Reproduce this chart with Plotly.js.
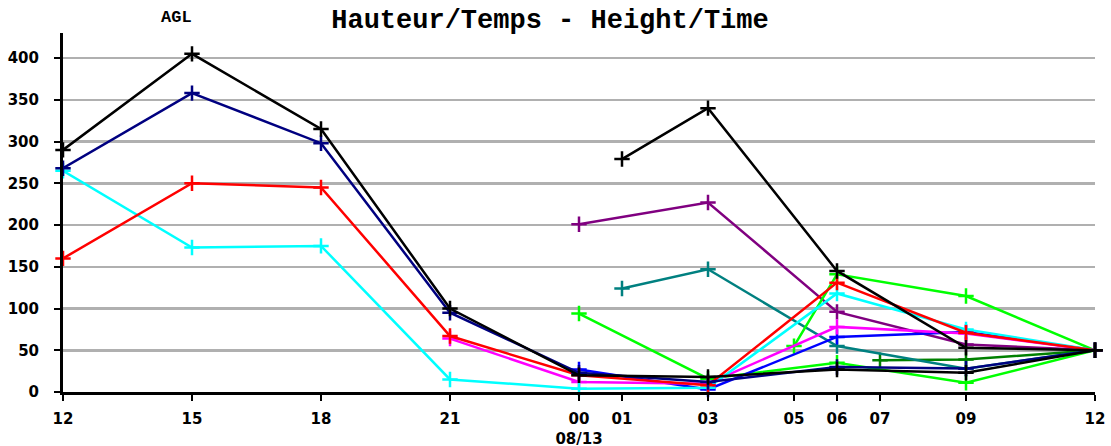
<!DOCTYPE html>
<html>
<head>
<meta charset="utf-8">
<script src="https://cdn.plot.ly/plotly-3.0.1.min.js"></script>
<style>
html,body{margin:0;padding:0;background:#fff;}
#chart{width:1111px;height:446px;}
</style>
</head>
<body>
<div id="chart"></div>
<script>
// hours counted from 12:00 on the first day (12 = 00h on 08/13)
const tickHours = [0, 3, 6, 9, 12, 13, 15, 17, 18, 19, 21, 24];
const tickLabels = ['12', '15', '18', '21', '00<br>08/13', '01', '03', '05', '06', '07', '09', '12'];

const hoursFull = [0, 3, 6, 9, 12, 15, 18, 21, 24];
const blackA = [290, 405, 315, 100, 20, 18, 27, 23, 50];
const navyA  = [268, 358, 298, 95, 23, 12, 30, 28, 50];
const redA   = [160, 250, 245, 67, 20, 8, 131, 71, 50];
const cyanA  = [265, 173, 175, 15, 4, 5, 118, 75, 50];

const hoursMagenta = [9, 12, 15, 18, 21, 24];
const magentaA = [64, 12, 10, 78, 70, 50];

const hoursFrom00 = [12, 15, 18, 21, 24];
const blueA   = [27, 3, 66, 72, 50];
const purpleA = [201, 227, 96, 57, 50];
const limeA   = [94, 16, 35, 11, 50];

const hoursFrom01 = [13, 15, 18, 21, 24];
const blackB = [279, 340, 145, 53, 50];
const tealA  = [124, 147, 55, 28, 50];

const hoursFrom05 = [17, 18, 21, 24];
const limeB = [55, 141, 115, 50];

const hoursFrom07 = [19, 21, 24];
const greenA = [38, 39, 50];

function series(x, y, color) {
  return {
    x: x, y: y, type: 'scatter', mode: 'lines+markers',
    line: {color: color, width: 2.5},
    marker: {symbol: 'cross-thin', size: 11, color: color, line: {width: 2.5, color: color}},
    cliponaxis: false, hoverinfo: 'x+y', showlegend: false
  };
}

const data = [
  series(hoursFrom07, greenA, '#008000'),
  series(hoursFrom01, tealA, '#008080'),
  series(hoursFrom00, purpleA, '#800080'),
  series(hoursFrom05, limeB, '#00ff00'),
  series(hoursFrom00, limeA, '#00ff00'),
  series(hoursFrom00, blueA, '#0000ff'),
  series(hoursMagenta, magentaA, '#ff00ff'),
  series(hoursFull, cyanA, '#00ffff'),
  series(hoursFull, redA, '#ff0000'),
  series(hoursFull, navyA, '#000080'),
  series(hoursFull, blackA, '#000000'),
  series(hoursFrom01, blackB, '#000000')
];

const tickFont = {family: 'DejaVu Sans, Verdana, sans-serif', size: 15, color: '#000', weight: 'bold'};

const layout = {
  width: 1111, height: 446,
  margin: {l: 63, r: 16, t: 33, b: 54, pad: 0},
  paper_bgcolor: '#fff', plot_bgcolor: '#fff',
  title: {
    text: 'Hauteur/Temps - Height/Time',
    font: {family: 'Liberation Mono, Courier New, monospace', size: 27, color: '#000', weight: 'bold'},
    x: 550 / 1111, xref: 'container', xanchor: 'center',
    y: 1 - 19 / 446, yref: 'container', yanchor: 'middle'
  },
  xaxis: {
    range: [0, 24], tickmode: 'array', tickvals: tickHours, ticktext: tickLabels,
    showgrid: false, zeroline: false, showline: true, linecolor: '#000', linewidth: 3,
    ticks: 'outside', ticklen: 6, tickwidth: 2, tickcolor: '#000',
    tickfont: tickFont, ticklabelstandoff: 5, fixedrange: true
  },
  yaxis: {
    range: [0, 430], tickmode: 'array', tickvals: [0, 50, 100, 150, 200, 250, 300, 350, 400],
    showgrid: true, gridcolor: '#b0b0b0', gridwidth: 2.5,
    zeroline: false, showline: true, linecolor: '#000', linewidth: 3,
    ticks: 'outside', ticklen: 6, tickwidth: 2, tickcolor: '#000',
    tickfont: tickFont, ticklabelstandoff: 12, fixedrange: true
  },
  annotations: [{
    text: 'AGL', xref: 'paper', yref: 'paper', x: (176 - 63) / (1111 - 63 - 16), xanchor: 'center',
    y: 1 + (33 - 18) / (446 - 33 - 54), yanchor: 'middle', showarrow: false,
    font: {family: 'Liberation Mono, Courier New, monospace', size: 17, color: '#000', weight: 'bold'}
  }]
};

Plotly.newPlot('chart', data, layout, {displayModeBar: false, staticPlot: true});
</script>
</body>
</html>
